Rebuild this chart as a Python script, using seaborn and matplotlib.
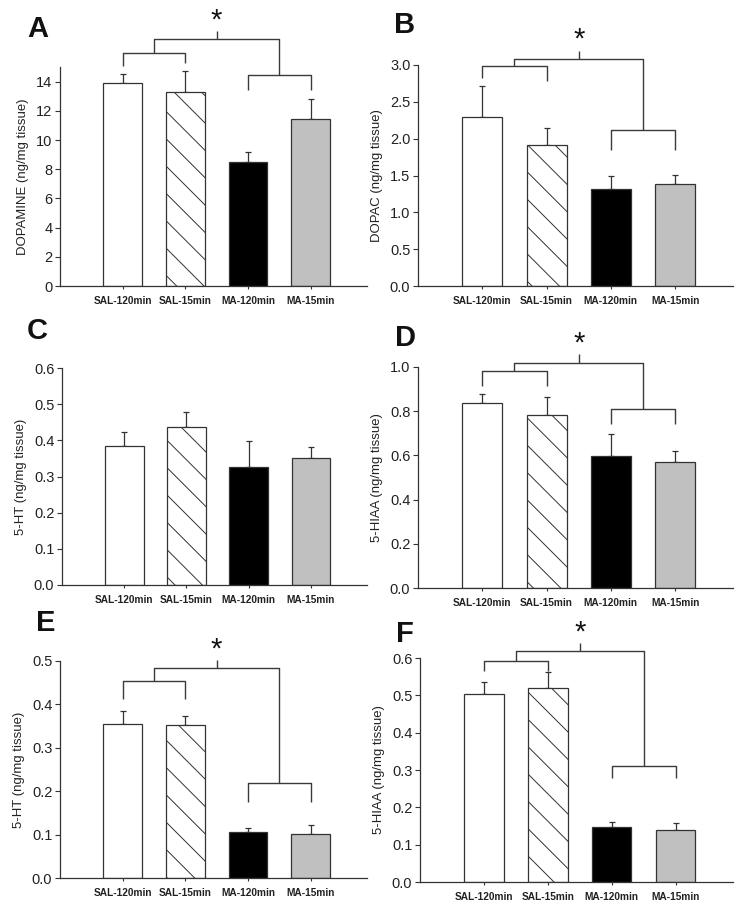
import numpy as np
import matplotlib
matplotlib.use("Agg")
import matplotlib.pyplot as plt
import seaborn as sns

# ---------------- data ----------------
groups = ["SAL-120min", "SAL-15min", "MA-120min", "MA-15min"]
bar_colors = ["#ffffff", "#ffffff", "#000000", "#c0c0c0"]

dopamine_mean = [13.93, 13.30, 8.47, 11.42]
dopamine_sem = [0.57, 1.40, 0.70, 1.39]

dopac_mean = [2.30, 1.92, 1.32, 1.38]
dopac_sem = [0.42, 0.23, 0.18, 0.13]

ht_c_mean = [0.385, 0.438, 0.327, 0.351]
ht_c_sem = [0.039, 0.040, 0.070, 0.031]

hiaa_d_mean = [0.839, 0.785, 0.597, 0.570]
hiaa_d_sem = [0.039, 0.081, 0.098, 0.048]

ht_e_mean = [0.355, 0.352, 0.106, 0.102]
ht_e_sem = [0.030, 0.021, 0.009, 0.020]

hiaa_f_mean = [0.504, 0.520, 0.148, 0.138]
hiaa_f_sem = [0.031, 0.042, 0.012, 0.020]

panel_letters = ["A", "B", "C", "D", "E", "F"]
ylabels = ["DOPAMINE (ng/mg tissue)", "DOPAC (ng/mg tissue)", "5-HT (ng/mg tissue)",
           "5-HIAA (ng/mg tissue)", "5-HT (ng/mg tissue)", "5-HIAA (ng/mg tissue)"]
ylims = [15, 3.0, 0.6, 1.0, 0.5, 0.6]
ytick_steps = [2, 0.5, 0.1, 0.2, 0.1, 0.1]
ytick_fmt = ["{:.0f}", "{:.1f}", "{:.1f}", "{:.1f}", "{:.1f}", "{:.1f}"]

# bracket heights (data units): left-h, left legs, right-h, right legs, top-h, tick top, star
brackets = [
    dict(lh=15.98, ll=(15.1, 15.3), rh=14.43, rl=(13.4, 13.4), top=16.94, tick=17.5, star=18.2),
    dict(lh=2.98, ll=(2.83, 2.78), rh=2.12, rl=(1.85, 1.85), top=3.08, tick=3.19, star=3.34),
    None,
    dict(lh=0.982, ll=(0.913, 0.913), rh=0.812, rl=(0.744, 0.744), top=1.02, tick=1.06, star=1.106),
    dict(lh=0.454, ll=(0.413, 0.413), rh=0.22, rl=(0.176, 0.176), top=0.483, tick=0.502, star=0.527),
    dict(lh=0.592, ll=(0.565, 0.565), rh=0.311, rl=(0.279, 0.279), top=0.618, tick=0.641, star=0.669),
]

means = [dopamine_mean, dopac_mean, ht_c_mean, hiaa_d_mean, ht_e_mean, hiaa_f_mean]
sems = [dopamine_sem, dopac_sem, ht_c_sem, hiaa_d_sem, ht_e_sem, hiaa_f_sem]

# ---------------- style ----------------
DPI = 82                 # chosen so the hatch spacing matches the reference
S = 100.0 / DPI          # point-size scale so sizes look as at 100 dpi


def pt(v):
    return v * S


sns.set_style("ticks")
plt.rcParams["font.family"] = ["Liberation Sans", "DejaVu Sans"]
plt.rcParams["hatch.linewidth"] = pt(0.7)
plt.rcParams["hatch.color"] = "#444444"

W, H = 746, 907
fig = plt.figure(figsize=(W / DPI, H / DPI), dpi=DPI)
fig.patch.set_facecolor("white")

# axes boxes in pixels: left, right, top, bottom
boxes = [
    (60, 367, 67, 286),
    (418, 733, 65, 286),
    (62, 367, 368, 585),
    (418, 733, 367, 588),
    (60, 367, 661, 878),
    (420, 733, 658, 882),
]
letter_pos = [(27, 37), (394, 33), (27, 339), (395, 346), (36, 631), (396, 642)]

edge = "#333333"
for i in range(6):
    l, r, t, b = boxes[i]
    ax = fig.add_axes([l / W, 1 - b / H, (r - l) / W, (b - t) / H])
    sns.barplot(x=groups, y=means[i], hue=groups, palette=bar_colors, legend=False,
                width=0.62, edgecolor=edge, linewidth=pt(0.9), errorbar=None, ax=ax, zorder=2)
    ax.patches[1].set_hatch("\\")
    xs = np.arange(len(groups))
    ax.errorbar(xs, means[i], yerr=[np.zeros(len(groups)), sems[i]], fmt="none",
                ecolor=edge, elinewidth=pt(0.9), capsize=pt(2.5), capthick=pt(0.9), zorder=1)
    ax.set_xlim(-1, 3.9)
    ax.set_ylim(0, ylims[i])
    ticks = np.arange(0, ylims[i] + 1e-9, ytick_steps[i])
    if i == 0:
        ticks = ticks[ticks <= 14]
    ax.set_yticks(ticks)
    ax.set_yticklabels([ytick_fmt[i].format(v) for v in ticks], fontsize=pt(10.5), color="#222222")
    ax.set_xticks(xs)
    ax.set_xticklabels(groups, fontsize=pt(7.3), fontweight="bold", color="#222222")
    ax.set_ylabel(ylabels[i], fontsize=pt(9.5), color="#222222", labelpad=pt(5))
    ax.set_xlabel("")
    ax.tick_params(axis="y", length=pt(3.5), width=pt(0.8), color=edge, pad=pt(2))
    ax.tick_params(axis="x", length=pt(2.5), width=pt(0.8), color=edge, pad=pt(5))
    for s in ["top", "right"]:
        ax.spines[s].set_visible(False)
    for s in ["left", "bottom"]:
        ax.spines[s].set_color(edge)
        ax.spines[s].set_linewidth(pt(0.9))
    ax.set_facecolor("white")

    br = brackets[i]
    if br is not None:
        kw = dict(color="#3a3a3a", lw=pt(1.0), clip_on=False, solid_capstyle="butt")
        ax.plot([0, 0, 1, 1], [br["ll"][0], br["lh"], br["lh"], br["ll"][1]], **kw)
        ax.plot([2, 2, 3, 3], [br["rl"][0], br["rh"], br["rh"], br["rl"][1]], **kw)
        ax.plot([0.5, 0.5, 2.5, 2.5], [br["lh"], br["top"], br["top"], br["rh"]], **kw)
        ax.plot([1.5, 1.5], [br["top"], br["tick"]], **kw)
        ax.text(1.5, br["star"], "*", ha="center", va="center", fontsize=pt(21), color="#111111",
                clip_on=False)

    lx, ly = letter_pos[i]
    fig.text(lx / W, 1 - ly / H, panel_letters[i], fontsize=pt(21), fontweight="bold",
             ha="left", va="baseline", color="#111111")

fig.savefig("out.png", dpi=DPI, facecolor="white")
